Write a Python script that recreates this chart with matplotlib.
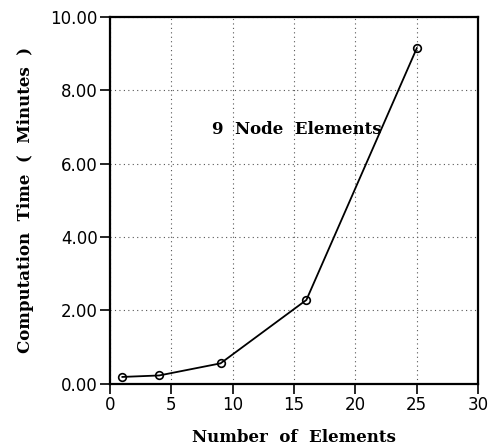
import matplotlib
matplotlib.use("Agg")
import matplotlib.pyplot as plt

elements = [1, 4, 9, 16, 25]
minutes = [0.18, 0.22, 0.55, 2.28, 9.15]
xticks = [0, 5, 10, 15, 20, 25, 30]
yticks = [0, 2, 4, 6, 8, 10]
ytick_labels = ["0.00", "2.00", "4.00", "6.00", "8.00", "10.00"]

fig = plt.figure(figsize=(4.96, 4.47), dpi=100)
ax = fig.add_axes([0.222, 0.142, 0.742, 0.820])

ax.plot(elements, minutes, color="black", lw=1.3, marker="o", ms=5.5,
        mfc="none", mec="black", mew=1.2, zorder=3)

ax.set_xlim(0, 30)
ax.set_ylim(0, 10)
ax.set_xticks(xticks)
ax.set_yticks(yticks)
ax.set_yticklabels(ytick_labels)
ax.grid(True, linestyle=(0, (1, 3)), color="#555555", lw=0.8)
for s in ax.spines.values():
    s.set_linewidth(1.6)
ax.tick_params(direction="out", length=7, width=1.2, labelsize=12, pad=2)

serif = "DejaVu Serif"
ax.set_xlabel("Number  of  Elements", fontsize=12, fontweight="bold",
              family=serif, labelpad=11)
ax.set_ylabel("Computation  Time  (  Minutes  )", fontsize=12,
              fontweight="bold", family=serif, labelpad=12)
ax.text(15.2, 6.93, "9  Node  Elements", fontsize=12, fontweight="bold",
        family=serif, ha="center", va="center")

fig.savefig("out.png", dpi=100)
